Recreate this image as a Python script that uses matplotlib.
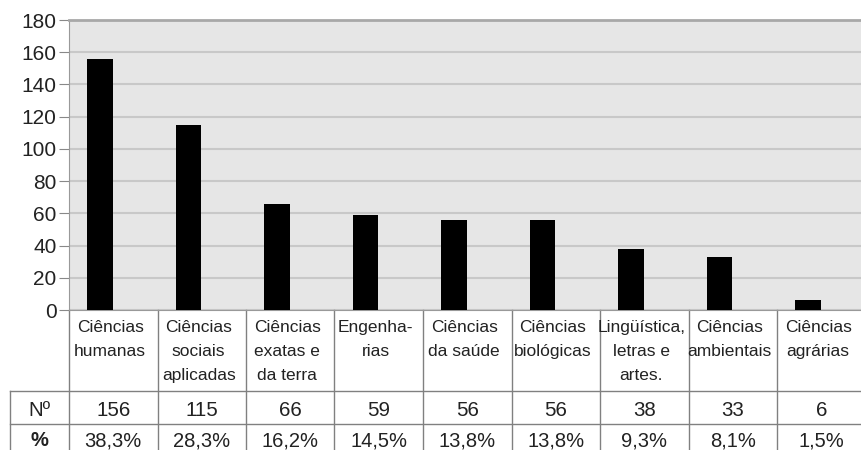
import numpy as np
import matplotlib.pyplot as plt
from matplotlib.lines import Line2D

plt.rcParams['font.family'] = ['Liberation Sans', 'DejaVu Sans']

categorias = ["Ciências\nhumanas", "Ciências\nsociais\naplicadas", "Ciências\nexatas e\nda terra",
              "Engenha-\nrias", "Ciências\nda saúde", "Ciências\nbiológicas",
              "Lingüística,\nletras e\nartes.", "Ciências\nambientais", "Ciências\nagrárias"]
numeros = [156, 115, 66, 59, 56, 56, 38, 33, 6]
percentuais = ["38,3%", "28,3%", "16,2%", "14,5%", "13,8%", "13,8%", "9,3%", "8,1%", "1,5%"]
yticks = [0, 20, 40, 60, 80, 100, 120, 140, 160, 180]

fig = plt.figure(figsize=(8.61, 4.5), dpi=100)
ax = fig.add_axes([69 / 861, 140 / 450, 796.5 / 861, 290 / 450])
ax.set_facecolor('#e6e6e6')

x = np.arange(len(numeros))
ax.bar(x, numeros, width=0.29, color='black', zorder=3)

ax.set_xlim(-0.35, len(numeros) - 0.35)
ax.set_ylim(0, 180)
ax.set_yticks(yticks)
ax.set_xticks([])
ax.tick_params(axis='y', length=7, color='#888888', labelsize=15, labelcolor='#222222', pad=2)
ax.yaxis.grid(True, color='#c8c8c8', linewidth=1.5, zorder=1)
ax.spines['top'].set_color('#a8a8a8')
ax.spines['top'].set_linewidth(2)
ax.spines['left'].set_color('#999999')
ax.spines['bottom'].set_color('#999999')
ax.spines['right'].set_visible(False)

# tabela abaixo do gráfico
tr = ax.get_xaxis_transform()
cor = '#808080'
y_lab, y_num, y_fim = -0.2793, -0.393, -0.52
x_esq = -1.017
bordas = np.arange(len(numeros) + 1) - 0.35
for b in bordas:
    ax.add_line(Line2D([b, b], [0, y_fim], transform=tr, color=cor, lw=1, clip_on=False))
ax.add_line(Line2D([x_esq, x_esq], [y_lab, y_fim], transform=tr, color=cor, lw=1, clip_on=False))
for yy in (y_lab, y_num):
    ax.add_line(Line2D([x_esq, bordas[-1]], [yy, yy], transform=tr, color=cor, lw=1, clip_on=False))

for i in range(len(numeros)):
    cx = x[i] + 0.15
    ax.text(cx - 0.035, -0.036, categorias[i], transform=tr, ha='center', va='top',
            fontsize=12.5, color='#222222', linespacing=1.72)
    ax.text(cx, -0.346, str(numeros[i]), transform=tr, ha='center', va='center',
            fontsize=14.8, color='#222222')
    ax.text(cx, -0.451, percentuais[i], transform=tr, ha='center', va='center',
            fontsize=14.5, color='#222222')

cx0 = (x_esq - 0.35) / 2
ax.text(cx0, -0.346, "Nº", transform=tr, ha='center', va='center', fontsize=14.8, color='#222222')
ax.text(cx0, -0.451, "%", transform=tr, ha='center', va='center', fontsize=14.5,
        color='#222222', fontweight='bold')

fig.savefig('out.png', dpi=100)
